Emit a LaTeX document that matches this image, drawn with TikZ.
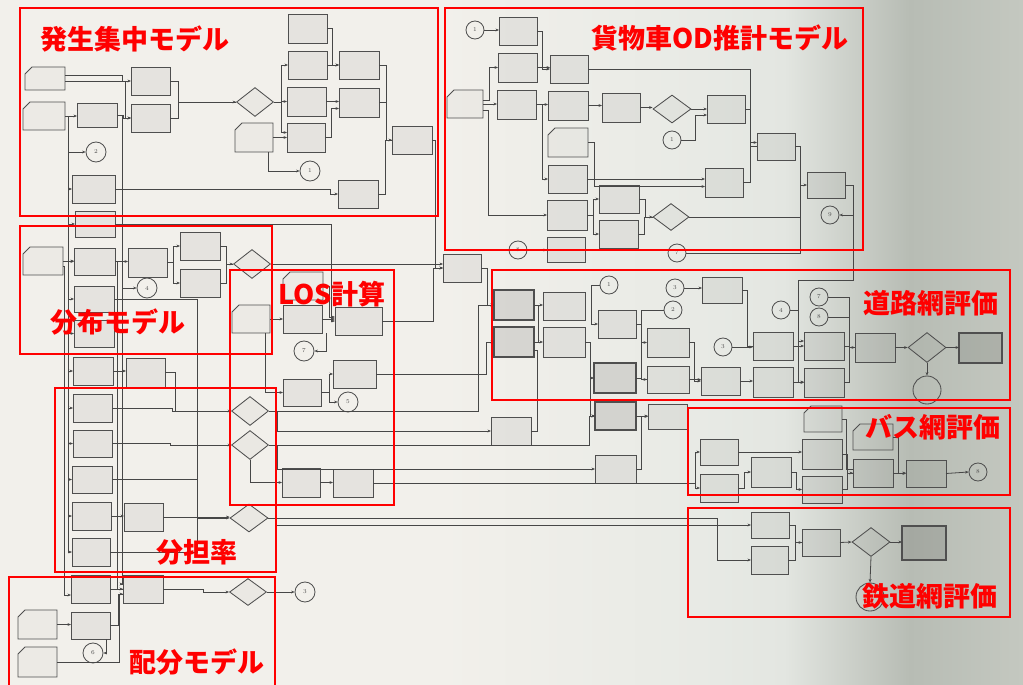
\documentclass[tikz,border=0pt]{standalone}
\usepackage{fontspec}
\newfontfamily\cjk{Noto Sans CJK JP}
\usetikzlibrary{shapes.geometric,arrows.meta}
\definecolor{lc}{HTML}{474747}
\definecolor{bc}{HTML}{4F4F4F}
\definecolor{rd}{HTML}{FF0000}
\definecolor{bga}{HTML}{F2F0EB}
\definecolor{bgb}{HTML}{E8EAE5}
\definecolor{bgc}{HTML}{E3E6E1}
\definecolor{bgd}{HTML}{B7BCB4}
\definecolor{bge}{HTML}{C4C8C0}
\tikzset{
 bx/.style={draw=bc, line width=0.85pt, rectangle, inner sep=0pt, outer sep=0pt, fill=black, fill opacity=0.05, draw opacity=1},
 tbx/.style={bx, line width=2.2pt, fill opacity=0.1},
 nbx/.style={rectangle, inner sep=0pt, outer sep=0pt},
 docl/.style={draw=bc, line width=0.85pt},
 docf/.style={fill=black, fill opacity=0.025},
 cr/.style={draw=bc, line width=0.85pt, circle, inner sep=0pt, font=\fontsize{6}{6}\selectfont, text=bc},
 dm/.style={draw=bc, line width=0.85pt, diamond, inner sep=0pt, aspect=1.3, fill=black, fill opacity=0.03, draw opacity=1, text opacity=1},
 ln/.style={draw=lc, line width=0.8pt},
 ar/.style={ln, -{Stealth[length=3.5pt,width=2.8pt]}},
 rbox/.style={draw=rd, line width=1.8pt},
 lbl/.style={text=rd, font=\cjk\bfseries\fontsize{27}{27}\selectfont, inner sep=0pt},
}
\newcommand{\Bx}[6][bx]{\node[#1,minimum width={(#5)-(#3)},minimum height={(#6)-(#4)}] (#2) at ({((#3)+(#5))/2},{((#4)+(#6))/2}) {};}
\newcommand{\Dc}[5]{\Bx[nbx]{#1}{#2}{#3}{#4}{#5}%
\fill[docf] ([yshift=-7pt]#1.north west) -- ([xshift=7pt]#1.north west) -- (#1.north east) -- (#1.south east) -- (#1.south west) -- cycle;%
\draw[docl] ([yshift=-7pt]#1.north west) -- ([xshift=7pt]#1.north west) -- (#1.north east) -- (#1.south east) -- (#1.south west) -- cycle;}
\newcommand{\Ci}[5][9]{\node[cr,minimum size={2*(#1)}] (#2) at (#3,#4) {#5};}
\newcommand{\Di}[5]{\node[dm,minimum width=#4,minimum height=#5] (#1) at (#2,#3) {};}
\begin{document}
\begin{tikzpicture}[x=1pt,y=-1pt]
\useasboundingbox (0,0) rectangle (1023,685);
% background paper
\fill[bga] (0,0) rectangle (441,685);
\shade[left color=bga, right color=bgb] (440,0) rectangle (700,685);
\shade[left color=bgb, right color=bgc] (699,0) rectangle (785,685);
\shade[left color=bgc, right color=bgd] (784,0) rectangle (910,685);
\shade[left color=bgd, right color=bge] (909,0) rectangle (1023,685);

% ---------------- generation / attraction
\Dc{A1}{25}{67}{65}{90}
\Dc{A2}{23}{102}{65}{130}
\Bx{B1}{77}{103}{117}{127}
\Ci[10]{c2}{96}{152}{2}
\Bx{B2}{72}{175}{115}{203}
\Bx{C1}{131}{67}{170}{95}
\Bx{C2}{131}{104}{170}{132}
\Di{D1}{255}{102}{37}{29}
\Bx{E0}{288}{14}{327}{43}
\Bx{E1}{288}{51}{327}{79}
\Bx{E2}{287}{87}{326}{116}
\Dc{E3}{235}{123}{273}{152}
\Bx{E4}{287}{123}{325}{152}
\Ci[10]{c1a}{310}{171}{1}
\Bx{F1}{339}{51}{379}{79}
\Bx{F2}{339}{88}{379}{117}
\Bx{F3}{338}{180}{378}{208}
\Bx{G1}{392}{126}{432}{154}

% ---------------- distribution / LOS / share / assignment (left)
\Bx{P0}{75}{211}{115}{237}
\Dc{P1}{23}{247}{63}{275}
\Bx{P2}{74}{248}{115}{275}
\Bx{P3}{128}{248}{167}{277}
\Ci[10]{c4}{147}{288}{4}
\Bx{P4}{180}{232}{220}{260}
\Bx{P5}{180}{269}{220}{297}
\Di{D4}{252}{264}{37}{29}
\Bx{P6}{74}{286}{114}{312}
\Bx{P7}{74}{320}{114}{347}
\Bx{P8}{73}{357}{113}{385}
\Bx{P9}{126}{358}{165}{387}
\Dc{L1}{283}{272}{323}{300}
\Dc{L2}{232}{305}{270}{333}
\Bx{L3}{283}{305}{322}{333}
\Bx{L4}{335}{307}{382}{335}
\Ci[10]{c7}{304}{351}{7}
\Bx{L5}{333}{360}{376}{388}
\Bx{L6}{283}{379}{321}{406}
\Ci[10]{c5}{348}{402}{5}
\Di{D5}{250}{411}{37}{29}
\Di{D6}{250}{445}{37}{29}
\Bx{L7}{282}{468}{320}{497}
\Bx{L8}{333}{469}{373}{497}
\Bx{Q1}{73}{394}{112}{422}
\Bx{Q2}{73}{430}{112}{457}
\Bx{Q3}{72}{466}{112}{493}
\Bx{Q4}{72}{502}{111}{530}
\Bx{Q5}{124}{503}{163}{531}
\Di{D7}{249}{518}{38}{28}
\Bx{Q6}{72}{538}{110}{566}
\Bx{Q7}{71}{575}{110}{603}
\Bx{Q8}{123}{575}{163}{603}
\Di{D8}{248}{592}{37}{27}
\Ci[10]{c3b}{305}{592}{3}
\Dc{R1}{18}{610}{57}{639}
\Bx{R2}{71}{612}{110}{639}
\Ci[10]{c6}{93}{653}{6}
\Dc{R3}{18}{647}{57}{677}
\Bx{M}{443}{254}{481}{282}

% ---------------- freight OD
\Ci{c3t}{475}{30}{1}
\Bx{H0}{499}{17}{537}{45}
\Bx{H1}{498}{53}{537}{82}
\Bx{H2}{550}{55}{588}{83}
\Dc{H3}{447}{90}{483}{118}
\Bx{H4}{497}{90}{536}{119}
\Bx{H5}{548}{91}{588}{120}
\Bx{H6}{602}{93}{640}{122}
\Di{D2}{672}{109}{38}{28}
\Bx{H7}{707}{95}{745}{123}
\Ci{c1b}{672}{140}{1}
\Dc{H8}{548}{128}{588}{157}
\Bx{H9}{548}{165}{587}{193}
\Bx{H10}{705}{168}{743}{197}
\Bx{H11}{757}{133}{795}{160}
\Bx{H12}{807}{172}{845}{198}
\Ci{c9}{830}{215}{9}
\Bx{H13}{547}{200}{587}{230}
\Bx{H14}{599}{185}{639}{213}
\Bx{H15}{599}{220}{638}{248}
\Di{D3}{671}{217}{36}{27}
\Bx{H16}{547}{237}{585}{262}
\Ci{c8t}{518}{250}{8}
\Ci{c7t}{677}{253}{7}

% ---------------- road network
\Ci{c1r}{609}{285}{1}
\Bx[tbx]{S1}{494}{290}{534}{320}
\Bx[tbx]{S2}{494}{327}{534}{357}
\Bx{S3}{543}{292}{585}{320}
\Bx{S4}{543}{327}{585}{357}
\Bx{S5}{598}{310}{636}{338}
\Ci{c3r}{675}{288}{3}
\Ci{c2r}{673}{310}{2}
\Bx{S6}{702}{277}{742}{303}
\Bx{S7}{647}{328}{689}{357}
\Ci{c3m}{723}{347}{3}
\Bx[tbx]{S8}{594}{363}{636}{393}
\Bx{S9}{647}{366}{689}{393}
\Bx{S10}{701}{367}{740}{395}
\Ci{c4r}{781}{310}{4}
\Bx{S11}{753}{332}{793}{360}
\Bx{S12}{753}{367}{793}{397}
\Ci{c7r}{819}{297}{7}
\Ci{c8r}{819}{317}{8}
\Bx{S13}{804}{332}{844}{360}
\Bx{S14}{804}{368}{844}{397}
\Bx{S15}{855}{333}{895}{362}
\Di{D9}{927}{347.5}{38}{30}
\Bx[tbx]{S16}{959}{333}{1002}{363}
\Ci[14]{cbig}{927}{390}{}
\Bx[tbx]{S17}{595}{402}{636}{430}
\Bx{S18}{648}{404}{687}{429}
\Bx{S19}{491}{417}{531}{445}
\Bx{S20}{595}{455}{636}{483}
\coordinate (rtop) at (798,280);

% ---------------- bus network
\Bx{T1}{700}{439}{738}{465}
\Bx{T2}{700}{474}{738}{502}
\Bx{T3}{751}{457}{791}{487}
\Bx{T4}{802}{439}{842}{469}
\Bx{T5}{802}{476}{842}{503}
\Dc{T6}{804}{406}{842}{432}
\Dc{T7}{853}{424}{893}{450}
\Bx{T8}{853}{459}{893}{487}
\Bx{T9}{906}{460}{946}{487}
\Ci{c8b}{978}{472}{8}

% ---------------- rail network
\Bx{U1}{751}{512}{789}{538}
\Bx{U2}{751}{546}{788}{574}
\Bx{U3}{802}{529}{840}{556}
\Di{D10}{871}{542}{38}{29}
\Bx[tbx]{U4}{902}{526}{946}{560}
\Ci[14]{crail}{870}{597}{}

% ================= connectors
% region 1
\draw[ar] ([yshift=3pt]A1.east) -- ++(57,0) |- (C1.west);
\draw[ar] ([yshift=-3pt]A1.east) -- ++(60,0) |- (C2.west);
\draw[ar] (A2.east) -- (A2.east -| B1.west);
\draw[ar] (B1.east) -- ++(6,0) |- (C2.west);
\draw[ar] (C1.east) -- ++(8,0) |- (D1.west);
\draw[ln] (C2.east) -- ++(8,0) |- (D1.west);
\draw[ar] (D1.east) -- ++(7,0) |- (E1.west);
\draw[ar] (D1.east) -- ++(7,0) |- (E2.west);
\draw[ar] (D1.east) -- ++(7,0) |- ([yshift=5pt]E4.west);
\draw[ar] (E3.east) -- (E3.east -| E4.west);
\draw[ar] ([xshift=-5pt]E3.south east) |- (c1a.west);
\draw[ar] (E0.east) -- ++(5,0) |- (F1.west);
\draw[ar] (E1.east) -- (E1.east -| F1.west);
\draw[ar] (E2.east) -- (E2.east -| F2.west);
\draw[ar] (E4.east) -- ++(6,0) |- ([yshift=-6pt]F2.west);
\draw[ar] (F1.east) -- ++(7,0) |- (G1.west);
\draw[ln] (F2.east) -- ++(7,0) |- (G1.west);
\draw[ln] (F3.east) -- ++(7,0) |- (G1.west);
\draw[ar] (B2.east) -- ++(215,0) |- (F3.west);
\draw[ar] (G1.east) -- ++(3,0) |- (M.west);
% left spines
\coordinate (spx) at (68,300);
\draw[ln] (A2.east) -| (spx |- Q6.west);
\foreach \n in {B2,P0,P2,P6,P7,P8,Q1,Q2,Q3,Q4,Q6} {\draw[ar] (spx |- \n.west) -- (\n.west);}
\draw[ar] (spx |- c2.west) -- (c2.west);
\draw[ar] ([yshift=-5pt]P1.east) -- ++(1,0) |- ([yshift=-6pt]Q7.west);
\draw[ar] (B1.east) -- ++(5,0) |- ([yshift=5pt]Q8.west);
\draw[ln] (P2.east) -- ++(2,0) |- (Q8.west);
% distribution
\draw[ar] (P1.east) -- (P1.east -| P2.west);
\draw[ar] (P2.east) -- (P2.east -| P3.west);
\draw[ar] (P2.east) -- ++(7,0) |- (c4.west);
\draw[ar] (P3.east) -- ++(6,0) |- (P4.west);
\draw[ar] (P3.east) -- ++(6,0) |- (P5.west);
\draw[ln] (P4.east) -- ++(6,0) |- (D4.west);
\draw[ar] (P5.east) -- ++(6,0) |- (D4.west);
\draw[ar] (D4.east) -- (D4.east -| M.west);
\draw[ar] (P0.east) -- ++(216,0) |- (L4.west);
% LOS
\draw[ar] (L2.east) -- (L2.east -| L3.west);
\draw[ar] (L3.east) -- (L3.east -| L4.west);
\draw[ar] (L1.east) -- ++(6,0) |- ([yshift=4pt]L4.west);
\draw[ar] (L4.east) -- ++(51,0) |- (M.west);
\draw[ar] ([xshift=4pt]L3.south east) |- (c7.east);
\draw[ar] ([xshift=-5pt]L2.south east) |- (L6.west);
\draw[ar] (L6.east) -- ++(8,0) |- (L5.west);
\draw[ar] (L6.east) -- ++(8,0) |- (c5.west);
\draw[ar] (L5.east) -- ++(110,0) |- (S2.west);
\draw[ar] (L7.east) -- (L7.east -| L8.west);
\draw[ar] (D6.south) |- (L7.west);
\draw[ar] (L8.east) -- ++(322,0) |- (T1.west);
\draw[ar] (L8.east) -- ++(322,0) |- (T2.west);
% modal share
\coordinate (vx) at (197,300);
\draw[ar] (P6.east) -- (P6.east -| vx) |- (D7.west);
\draw[ln] (Q3.east) -- (Q3.east -| vx);
\draw[ln] (Q6.east) -- (Q6.east -| vx) -- (vx |- D7.west);
\draw[ar] (Q4.east) -- (Q4.east -| Q5.west);
\draw[ar] (Q5.east) -- (Q5.east -| D7.west);
\draw[ar] (Q1.east) -- ++(60,0) |- (D5.west);
\draw[ar] (Q2.east) -- ++(58,0) |- (D6.west);
\draw[ar] (P8.east) -- (P8.east -| P9.west);
\draw[ln] (P9.east) -- ++(10,0) |- (D5.west);
\draw[ar] (D5.east) -- ++(209,0) |- (S1.west);
\draw[ar] (D5.east) -- ++(8,0) |- (S19.west);
\draw[ar] (D6.east) -- ++(320,0) |- (S17.west);
\draw[ar] (D6.east) -- ++(8,0) |- (S20.west);
\draw[ar] (D7.east) -- ++(449,0) |- (U2.west);
\draw[ar] (D7.east) -- ++(7,0) |- (U1.west);
% assignment
\draw[ar] (Q7.east) -- (Q7.east -| Q8.west);
\draw[ar] (Q8.east) -- ++(40,0) |- (D8.west);
\draw[ar] (D8.east) -- (c3b.west);
\draw[ar] (R1.east) -- (R1.east -| R2.west);
\draw[ar] (R2.east) -- ++(8,0) |- ([yshift=-5pt]Q8.west);
\draw[ln] (R3.east) -- ++(62,0) |- ([yshift=-5pt]Q8.west);
\draw[ar] ([xshift=-4pt]R2.south east) |- (c6.east);
% freight
\draw[ar] (c3t.east) -- (c3t.east -| H0.west);
\draw[ar] (H0.east) -- ++(5,0) |- (H2.west);
\draw[ar] (H1.east) -- (H1.east -| H2.west);
\draw[ar] ([yshift=4pt]H3.east) -- ++(6,0) |- (H1.west);
\draw[ar] (H3.east) -- (H3.east -| H4.west);
\draw[ar] (H4.east) -- (H4.east -| H5.west);
\draw[ar] (H4.east) -- ++(6,0) |- (H9.west);
\draw[ar] (H5.east) -- (H5.east -| H6.west);
\draw[ar] (H6.east) -- (H6.east -| D2.west);
\draw[ar] (D2.east) -- (D2.east -| H7.west);
\draw[ar] (c1b.east) -- ++(14,0) |- ([yshift=-6pt]H7.west);
\draw[ar] (H8.east) -- ++(6,0) |- ([yshift=-4pt]H10.west);
\draw[ar] (H9.east) -- (H9.east -| H10.west);
\draw[ar] (H2.east) -- ++(162,0) |- ([yshift=4pt]H11.west);
\draw[ln] (H7.east) -- ++(5,0) |- (H11.west);
\draw[ln] (H10.east) -- ++(7,0) |- (H11.west);
\draw[ar] (H11.east) -- ++(5,0) |- (H12.west);
\draw[ln] (H11.east) -- ++(5,0) |- (c7t.east);
\draw[ln] (D3.east) -- ([xshift=5pt]D3.east -| H11.east);
\draw[ar] (H12.east) -- ++(8,0) |- (c9.east);
\draw[ln] (H12.east) -- ++(8,0) |- (rtop);
\draw[ar] ([yshift=-6pt]H3.east) -- ++(5,0) |- (H13.west);
\draw[ar] (H13.east) -- ++(6,0) |- (H14.west);
\draw[ar] (H13.east) -- ++(6,0) |- (H15.west);
\draw[ln] (H14.east) -- ++(6,0) |- (D3.west);
\draw[ar] (H15.east) -- ++(6,0) |- (D3.west);
\draw[ar] (c8t.east) -- (c8t.east -| H16.west);
% road
\draw[ar] (M.east) -- ++(6,0) |- (S1.west);
\draw[ar] (S1.east) -- (S1.east -| S3.west);
\draw[ar] (S2.east) -- (S2.east -| S4.west);
\draw[ln] ([xshift=4pt]S1.east) -- ([xshift=4pt]S2.east);
\draw[ar] (c1r.west) -- ++(-8,0) |- (S5.west);
\draw[ar] (S4.east) -- ++(5,0) |- (S8.west);
\draw[ar] (S4.east) -- ++(5,0) |- (S17.west);
\draw[ar] (c3r.east) -- (c3r.east -| S6.west);
\draw[ar] (c2r.west) -- ++(-22,0) |- (S7.west);
\draw[ar] (S5.east) -- ++(5,0) |- (S9.west);
\draw[ln] (S8.east) -- ++(5,0) |- (S9.west);
\draw[ar] (S7.east) -- ++(5,0) |- (S10.west);
\draw[ar] (S9.east) -- (S9.east -| S10.west);
\draw[ar] (c3m.east) -- (c3m.east -| S11.west);
\draw[ln] (S6.east) -- ++(5,0) |- (S11.west);
\draw[ar] (S10.east) -- (S10.east -| S12.west);
\draw[ar] (S11.east) -- (S11.east -| S13.west);
\draw[ar] (S12.east) -- (S12.east -| S14.west);
\draw[ar] (rtop) |- (S14.west);
\draw[ar] (rtop) |- ([yshift=5pt]S13.west);
\draw[ln] (c4r.east) -- (c4r.east -| rtop);
\draw[ar] (c7r.east) -- ++(21,0) |- (S15.west);
\draw[ln] (c8r.east) -- ++(21,0);
\draw[ln] (S13.east) -- ++(5,0) |- (S15.west);
\draw[ln] (S14.east) -- ++(5,0) |- (S15.west);
\draw[ar] (S15.east) -- (D9.west);
\draw[ar] (D9.east) -- (D9.east -| S16.west);
\draw[ar] (D9.south) -- (cbig.north);
\draw[ln] (S19.east) -- ++(6,0) |- ([yshift=-8pt]S2.east);
\draw[ar] (S17.east) -- (S17.east -| S18.west);
\draw[ar] (S20.east) -- ++(5,0) |- (S18.west);
% bus
\draw[ar] (T1.east) -- (T1.east -| T4.west);
\draw[ar] (T2.east) -- ++(6,0) |- (T3.west);
\draw[ar] (T3.east) -- ++(5,0) |- (T5.west);
\draw[ar] (T4.east) -- ++(5,0) |- (T8.west);
\draw[ln] (T5.east) -- ++(5,0) |- (T8.west);
\draw[ln] (T6.east) -- ++(4,0) |- ([yshift=4pt]T8.west);
\draw[ar] (T7.east) -- ++(5,0) |- (T9.west);
\draw[ar] (T8.east) -- (T8.east -| T9.west);
\draw[ar] (T9.east) -- (c8b.west);
% rail
\draw[ln] (U1.east) -- ++(6,0) |- (U3.west);
\draw[ar] (U2.east) -- ++(7,0) |- (U3.west);
\draw[ar] (U3.east) -- (D10.west);
\draw[ar] (D10.east) -- (D10.east -| U4.west);
\draw[ar] (D10.south) -- (crail.north);

% ================= red overlay
\draw[rbox] (20,8) rectangle (438,216);
\draw[rbox] (445,8) rectangle (863,250);
\draw[rbox] (20,226) rectangle (272,354);
\draw[rbox] (230,270) rectangle (394,505);
\draw[rbox] (55,388) rectangle (276,572);
\draw[rbox] (9,577) rectangle (275,690);
\draw[rbox] (492,270) rectangle (1010,400);
\draw[rbox] (688,408) rectangle (1010,495);
\draw[rbox] (688,508) rectangle (1010,617);
\node[lbl] (t1) at (135,38.5) {発生集中モデル};
\node[lbl] (t2) at (720,37.5) {貨物車OD推計モデル};
\node[lbl] (t3) at (117.5,322.5) {分布モデル};
\node[lbl] (t4) at (332,294.5) {LOS計算};
\node[lbl] (t5) at (197,552) {分担率};
\node[lbl] (t6) at (197,662) {配分モデル};
\node[lbl] (t7) at (931,303) {道路網評価};
\node[lbl] (t8) at (933,427) {バス網評価};
\node[lbl] (t9) at (930,596) {鉄道網評価};
\end{tikzpicture}
\end{document}
